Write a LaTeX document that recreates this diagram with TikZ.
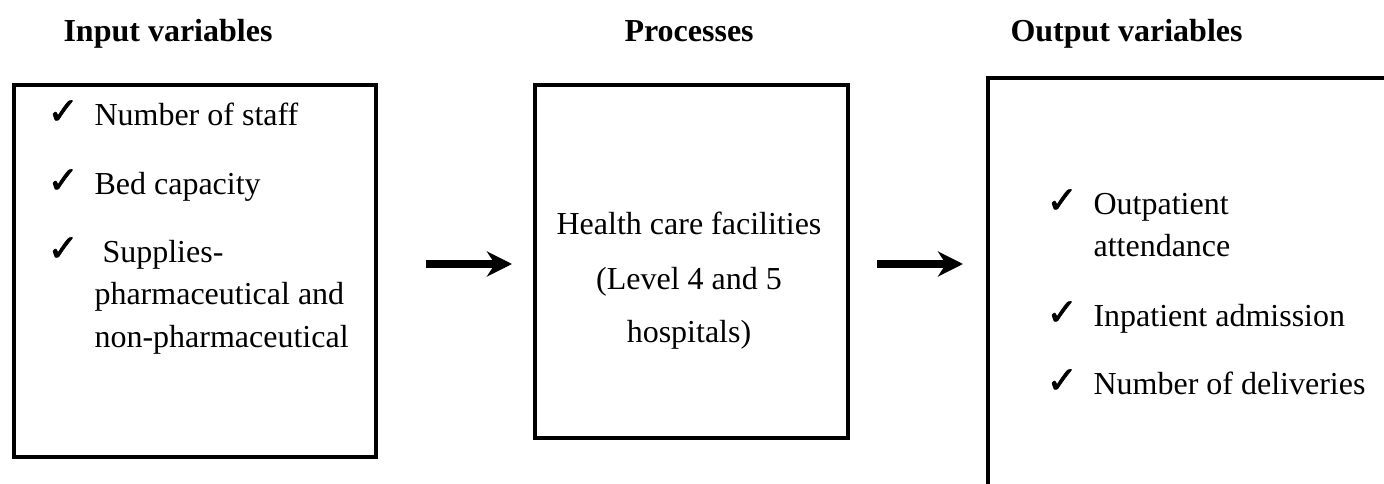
\documentclass[tikz,border=0pt]{standalone}
\usepackage{fontspec}
\setmainfont{Liberation Serif}
\newfontfamily\symfont[FakeBold=1.6]{DejaVu Sans}
\usetikzlibrary{arrows.meta}
\begin{document}
\begin{tikzpicture}[x=0.375pt,y=-0.375pt,
  txt/.style={inner sep=0pt,anchor=base west,font=\fontsize{12}{14}\selectfont},
  ctxt/.style={inner sep=0pt,anchor=base,font=\fontsize{12}{14}\selectfont},
  title/.style={inner sep=0pt,anchor=base west,font=\fontsize{12}{14}\selectfont\bfseries},
  tick/.style={inner sep=0pt,anchor=base west,font=\symfont\fontsize{14}{16}\selectfont},
  frame/.style={draw,line width=1.5pt,inner sep=0pt,anchor=north west},
  flow/.style={line width=3pt,-{Stealth[length=9.4pt,width=9.4pt,inset=3pt]}}]
\useasboundingbox (0,0) rectangle (1384,484);
\clip (0,0) rectangle (1384,484);

% column headings
\node[title] (tin)   at (63,42)   {Input variables};
\node[title] (tproc) at (624,42)  {Processes};
\node[title] (tout)  at (1010,42) {Output variables};

% frames
\node[frame,minimum width=135.75pt,minimum height=139.5pt] (inbox) at (12,83) {};
\node[frame,minimum width=117.375pt,minimum height=132.375pt] (procbox) at (533,83) {};
\node[frame,minimum width=162.75pt,minimum height=166.5pt] (outbox) at (986,76) {};

% input list
\node[tick] (c1) at (47,124) {✓};
\node[txt]  (i1) at (94,126) {Number of staff};
\node[tick] (c2) at (47,193) {✓};
\node[txt]  (i2) at (94,195) {Bed capacity};
\node[tick] (c3) at (47,261) {✓};
\node[txt]  (i3a) at (102,263) {Supplies-};
\node[txt]  (i3b) at (94,305) {pharmaceutical and};
\node[txt]  (i3c) at (94,348) {non-pharmaceutical};

% process text
\node[ctxt] (p1) at (689,235) {Health care facilities};
\node[ctxt] (p2) at (689,290) {(Level 4 and 5};
\node[ctxt] (p3) at (689,343) {hospitals)};

% output list
\node[tick] (d1) at (1046,213) {✓};
\node[txt]  (o1a) at (1093,215) {Outpatient};
\node[txt]  (o1b) at (1093,257) {attendance};
\node[tick] (d2) at (1046,325) {✓};
\node[txt]  (o2) at (1093,327) {Inpatient admission};
\node[tick] (d3) at (1046,393) {✓};
\node[txt]  (o3) at (1093,395) {Number of deliveries};

% flow arrows
\coordinate (a1s) at (426,264);
\coordinate (a1e) at (512,264);
\coordinate (a2s) at (877,264);
\coordinate (a2e) at (963,264);
\draw[flow] (a1s) -- (a1e);
\draw[flow] (a2s) -- (a2e);
\end{tikzpicture}
\end{document}
